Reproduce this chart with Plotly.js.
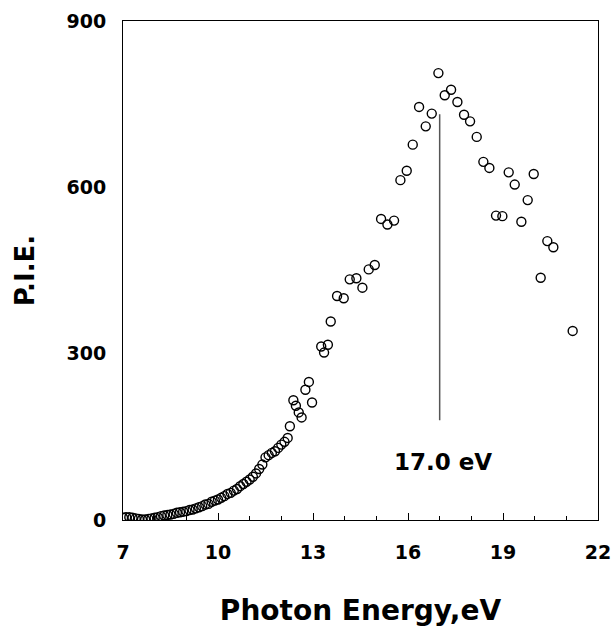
<!DOCTYPE html>
<html>
<head>
<meta charset="utf-8">
<script src="https://cdn.plot.ly/plotly-3.0.1.min.js"></script>
<style>body{margin:0;padding:0;background:#fff;}</style>
</head>
<body>
<div id="chart" style="width:613px;height:628px;"></div>
<script>
// Photon energy (eV)
var energy = [
  7.0, 7.1, 7.2, 7.3, 7.4, 7.5, 7.6, 7.7, 7.8, 7.9,
  8.0, 8.1, 8.2, 8.3, 8.4, 8.5, 8.6, 8.7, 8.8, 8.9,
  9.0, 9.1, 9.2, 9.3, 9.4, 9.5, 9.6, 9.7, 9.8, 9.9,
  10.0, 10.1, 10.2, 10.3, 10.4, 10.5, 10.6, 10.7, 10.8, 10.9,
  11.0, 11.1, 11.2, 11.3, 11.4, 11.5, 11.6, 11.7, 11.8, 11.9,
  12.0, 12.1, 12.2, 12.27, 12.38, 12.46, 12.55, 12.64, 12.76, 12.87,
  12.97, 13.26, 13.35, 13.47, 13.56, 13.76, 13.97, 14.16, 14.37, 14.56,
  14.76, 14.95, 15.15, 15.35, 15.56, 15.76, 15.96, 16.15, 16.35, 16.56,
  16.75, 16.96, 17.16, 17.36, 17.56, 17.77, 17.96, 18.17, 18.38, 18.57,
  18.78, 18.98, 19.18, 19.37, 19.58, 19.78, 19.97, 20.19, 20.40, 20.59,
  21.20
];
// Photoionization efficiency
var pie = [
  4, 5, 5, 4, 3, 2, 1, 1, 2, 3,
  4, 5, 7, 8, 9, 10, 11, 13, 14, 15,
  16, 18, 19, 21, 23, 25, 28, 29, 33, 35,
  37, 40, 43, 47, 49, 53, 56, 61, 65, 69,
  73, 78, 84, 92, 100, 113, 117, 121, 124, 130,
  136, 141, 148, 169, 216, 206, 194, 185, 235, 249,
  212, 313, 302, 316, 358, 404, 400, 434, 436, 419,
  452, 460, 543, 533, 540, 613, 630, 677, 745, 710,
  733, 806, 766, 776, 754, 731, 719, 691, 646, 635,
  549, 548, 627, 605, 538, 577, 624, 437, 503, 492,
  341
];
// Peak marker
var peakEnergy = 17.0;
var peakLineY = [180, 732];
var peakLabel = "17.0 eV";
var peakLabelPos = [17.1, 104];
// Axis ticks
var xTicks = [7, 10, 13, 16, 19, 22];
var yTicks = [0, 300, 600, 900];

var tickFont = {family: "DejaVu Sans", size: 19, color: "#000", weight: 700};

var trace = {
  x: energy,
  y: pie,
  type: "scatter",
  mode: "markers",
  marker: {
    symbol: "circle-open",
    size: 9,
    color: "#000",
    line: {width: 1.4, color: "#000"}
  },
  hoverinfo: "x+y"
};

var layout = {
  width: 613,
  height: 628,
  margin: {l: 123, r: 15, t: 21, b: 108},
  paper_bgcolor: "#fff",
  plot_bgcolor: "#fff",
  showlegend: false,
  xaxis: {
    range: [7, 22],
    tickvals: xTicks,
    ticktext: xTicks.map(String),
    ticks: "inside",
    ticklen: 7,
    tickwidth: 1,
    tickcolor: "#000",
    minor: {dtick: 1, tick0: 7, ticks: "inside", ticklen: 4, tickcolor: "#000", tickwidth: 1},
    showgrid: false,
    zeroline: false,
    showline: true,
    linecolor: "#000",
    linewidth: 1,
    mirror: true,
    tickfont: tickFont,
    ticklabelstandoff: 15,
    title: {text: "Photon Energy,eV", font: {family: "DejaVu Sans", size: 28, color: "#000", weight: 700}, standoff: 38},
    automargin: false
  },
  yaxis: {
    range: [0, 900],
    tickvals: yTicks,
    ticktext: yTicks.map(String),
    ticks: "",
    showgrid: false,
    zeroline: false,
    showline: true,
    linecolor: "#000",
    linewidth: 1,
    mirror: true,
    tickfont: tickFont,
    ticklabelstandoff: 12,
    title: {text: "P.I.E.", font: {family: "DejaVu Sans", size: 26, color: "#000", weight: 700}, standoff: 24},
    automargin: false
  },
  shapes: [{
    type: "line",
    xref: "x", yref: "y",
    x0: peakEnergy, x1: peakEnergy,
    y0: peakLineY[0], y1: peakLineY[1],
    line: {color: "#555", width: 1.5}
  }],
  annotations: [{
    x: peakLabelPos[0], y: peakLabelPos[1],
    xref: "x", yref: "y",
    text: peakLabel,
    showarrow: false,
    font: {family: "DejaVu Sans", size: 23, color: "#000", weight: 700}
  }]
};

Plotly.newPlot("chart", [trace], layout, {displayModeBar: false, staticPlot: true});
</script>
</body>
</html>
